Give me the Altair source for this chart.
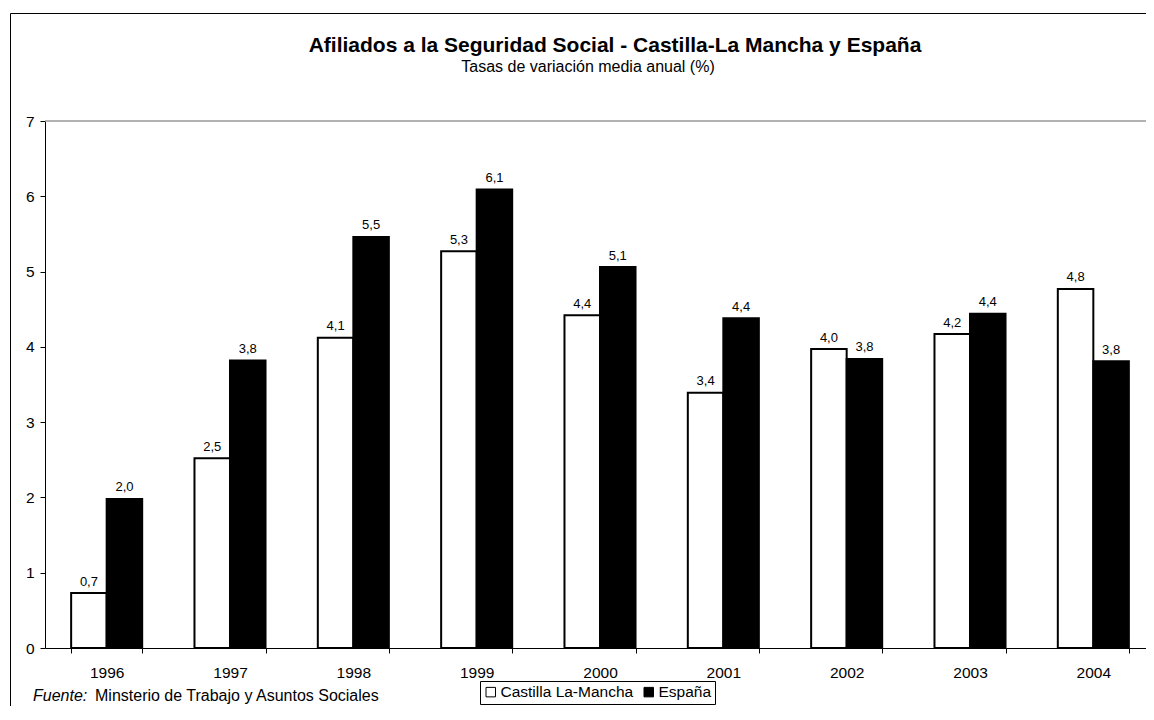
import altair as alt
import pandas as pd

years = ["1996", "1997", "1998", "1999", "2000", "2001", "2002", "2003", "2004"]
castilla = [0.73, 2.52, 4.12, 5.27, 4.42, 3.39, 3.97, 4.17, 4.77]
espana = [1.98, 3.82, 5.46, 6.09, 5.06, 4.38, 3.84, 4.44, 3.81]
series = ["Castilla La-Mancha", "España"]
y_ticks = [0, 1, 2, 3, 4, 5, 6, 7]
title_text = "Afiliados a la Seguridad Social - Castilla-La Mancha y España"
subtitle_text = "Tasas de variación media anual (%)"
source_label = "Fuente:"
source_text = "Minsterio de Trabajo y Asuntos Sociales"

rows = []
for i, yr in enumerate(years):
    for s, vals in zip(series, [castilla, espana]):
        rows.append({"year": yr, "serie": s, "valor": vals[i],
                     "etiqueta": f"{vals[i]:.1f}".replace(".", ",")})
df = pd.DataFrame(rows)
one = pd.DataFrame({"k": [0]})

W, H = 1101, 527
FONT = "Arial, Liberation Sans, sans-serif"

x_enc = alt.X("year:N", title=None, sort=years,
              scale=alt.Scale(range=[0, 1110], paddingInner=0.424,
                              paddingOuter=0.212),
              axis=alt.Axis(labelAngle=0, tickBand="extent", tickSize=5,
                            labelPadding=12, labelFontSize=15.5, labelFont=FONT,
                            labelColor="black", domainColor="black",
                            tickColor="black", grid=False))
xo_enc = alt.XOffset("serie:N", sort=series,
                     scale=alt.Scale(paddingInner=0, paddingOuter=0))
y_enc = alt.Y("valor:Q", title=None,
              scale=alt.Scale(domain=[0, 7], nice=False),
              axis=alt.Axis(values=y_ticks, format="d", grid=False, tickSize=5,
                            labelPadding=6, labelFontSize=15.5, labelFont=FONT,
                            labelColor="black", domainColor="black",
                            tickColor="black"))

bars = alt.Chart(df).mark_bar(stroke="black", strokeWidth=2).encode(
    x=x_enc, xOffset=xo_enc, y=y_enc,
    color=alt.Color("serie:N", sort=series,
                    scale=alt.Scale(domain=series, range=["white", "black"]),
                    legend=alt.Legend(title=None, orient="none", legendX=435,
                                      legendY=560, direction="horizontal",
                                      fillColor="white", strokeColor="black",
                                      padding=3, symbolType="square",
                                      symbolSize=90, symbolStrokeColor="black",
                                      symbolStrokeWidth=1, labelFontSize=15.5,
                                      labelFont=FONT, labelColor="black",
                                      labelOffset=2, columnPadding=7)),
)

labels = alt.Chart(df).mark_text(dy=-7.5, fontSize=13, baseline="alphabetic",
                                 font=FONT, color="black").encode(
    x=x_enc, xOffset=xo_enc, y=y_enc, text="etiqueta:N")

frame = alt.Chart(one).mark_rect(fillOpacity=0, stroke="black",
                                 strokeWidth=1).encode(
    x=alt.value(-34.5), x2=alt.value(W + 60),
    y=alt.value(-107.5), y2=alt.value(H + 120))
top_line = alt.Chart(one).mark_rule(color="#999999", strokeWidth=1.5).encode(
    x=alt.value(0), x2=alt.value(W + 20), y=alt.value(0))

title = alt.Chart(one).mark_text(align="center", baseline="alphabetic",
                                 fontSize=21, fontWeight="bold", font=FONT,
                                 color="black").encode(
    x=alt.value(570), y=alt.value(-69), text=alt.value(title_text))
subtitle = alt.Chart(one).mark_text(align="center", baseline="alphabetic",
                                    fontSize=16, font=FONT,
                                    color="black").encode(
    x=alt.value(543), y=alt.value(-49.3), text=alt.value(subtitle_text))
src1 = alt.Chart(one).mark_text(align="left", baseline="alphabetic",
                                fontSize=16, fontStyle="italic", font=FONT,
                                color="black").encode(
    x=alt.value(-12), y=alt.value(580), text=alt.value(source_label))
src2 = alt.Chart(one).mark_text(align="left", baseline="alphabetic",
                                fontSize=16, font=FONT,
                                color="black").encode(
    x=alt.value(50), y=alt.value(580), text=alt.value(source_text))

chart = alt.layer(frame, top_line, bars, labels, title,
                  subtitle, src1, src2).properties(
    width=W, height=H,
    autosize=alt.AutoSizeParams(type="none"),
    padding={"left": 37, "top": 113, "right": 0, "bottom": 58},
    background="white",
).configure_view(stroke=None)

chart.save("out.html", embed_options={"renderer": "svg", "actions": False})
